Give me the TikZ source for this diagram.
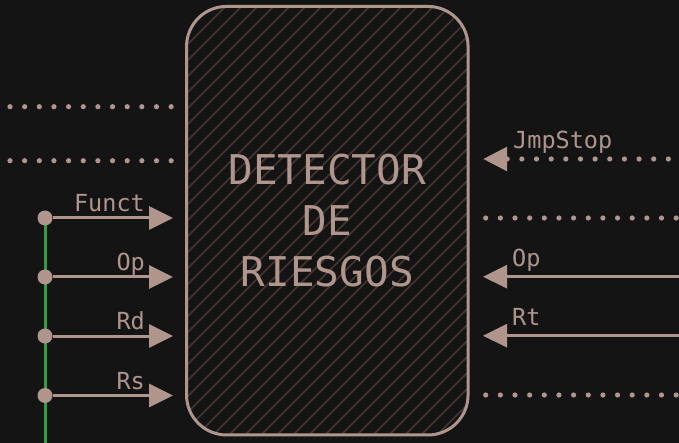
\documentclass[tikz,border=0pt]{standalone}
\usepackage{fontspec}
\setmonofont{DejaVu Sans Mono}
\usetikzlibrary{arrows.meta}
\definecolor{bg}{HTML}{141414}
\definecolor{ink}{HTML}{B0958D}
\definecolor{hatchc}{HTML}{45362F}
\definecolor{wire}{HTML}{2EA043}
\tikzset{
  arr/.style={draw=ink, line width=3pt, -{Triangle[length=24pt,width=23pt]}},
  dotline/.style={draw=ink, line width=5.2pt, line cap=round, dash pattern=on 0pt off 14.65pt},
  dotarr/.style={dotline, -{Triangle[length=24pt,width=23pt,line cap=butt]}},
  dotnode/.style={circle, fill=ink, minimum size=15pt, inner sep=0pt},
  lbl/.style={text=ink, font=\ttfamily\fontsize{23.5}{28}\selectfont, inner sep=0pt},
  wireline/.style={draw=wire, line width=3pt},
  hatchline/.style={draw=hatchc, line width=1.6pt},
  boxstyle/.style={draw=ink, line width=3pt, rounded corners=40pt, minimum width=281.5pt,
    minimum height=428.5pt, inner sep=0pt, text=ink, align=center,
    font=\ttfamily\fontsize{41}{51}\selectfont},
}
\begin{document}
\begin{tikzpicture}[x=1pt,y=-1pt]
\fill[bg] (0,0) rectangle (679,443);
\useasboundingbox (0,0) rectangle (679,443);
% hatch
\begin{scope}
\clip[rounded corners=40pt] (186.5,6.5) rectangle (468,435);
\foreach \i in {-448,-432,...,480} {
  \draw[hatchline] (\i,440) -- ({\i+440},0);
}
\end{scope}
\node[boxstyle] (det) at (327.3,220.7) {DETECTOR\\DE\\RIESGOS};
% left side
\coordinate (l1a) at (10,106.7);
\coordinate (l1b) at (172,106.7);
\coordinate (l2a) at (10,160.7);
\coordinate (l2b) at (172,160.7);
\draw[dotline] (l1a) -- (l1b);
\draw[dotline] (l2a) -- (l2b);
\coordinate (gb) at (45,445);
\coordinate (t1) at (173,218);
\coordinate (t2) at (173,277);
\coordinate (t3) at (173,336);
\coordinate (t4) at (173,395.5);
\coordinate (g0) at (45,218);
\draw[wireline] (g0) -- (gb);
\node[dotnode] (d1) at (45,218) {};
\node[dotnode] (d2) at (45,277) {};
\node[dotnode] (d3) at (45,336) {};
\node[dotnode] (d4) at (45,395.5) {};
\draw[arr] (d1) -- (t1);
\draw[arr] (d2) -- (t2);
\draw[arr] (d3) -- (t3);
\draw[arr] (d4) -- (t4);
\node[lbl, anchor=base east] (lfunct) at (145,211.7) {Funct};
\node[lbl, anchor=base east] (lop) at (145,270.5) {Op};
\node[lbl, anchor=base east] (lrd) at (145,329.5) {Rd};
\node[lbl, anchor=base east] (lrs) at (145,389) {Rs};
% right side
\coordinate (r1a) at (683,159);
\coordinate (r1b) at (483,159);
\draw[dotarr] (r1a) -- (r1b);
\coordinate (r2a) at (485.7,218);
\coordinate (r2b) at (683,218);
\draw[dotline] (r2a) -- (r2b);
\coordinate (r3a) at (683,276.7);
\coordinate (r3b) at (483,276.7);
\draw[arr] (r3a) -- (r3b);
\coordinate (r4a) at (683,335.7);
\coordinate (r4b) at (483,335.7);
\draw[arr] (r4a) -- (r4b);
\coordinate (r5a) at (485.7,395);
\coordinate (r5b) at (683,395);
\draw[dotline] (r5a) -- (r5b);
\node[lbl, anchor=base west] (ljmp) at (513,149) {JmpStop};
\node[lbl, anchor=base west] (rop) at (512,266.7) {Op};
\node[lbl, anchor=base west] (rrt) at (512,325.7) {Rt};
\end{tikzpicture}
\end{document}
